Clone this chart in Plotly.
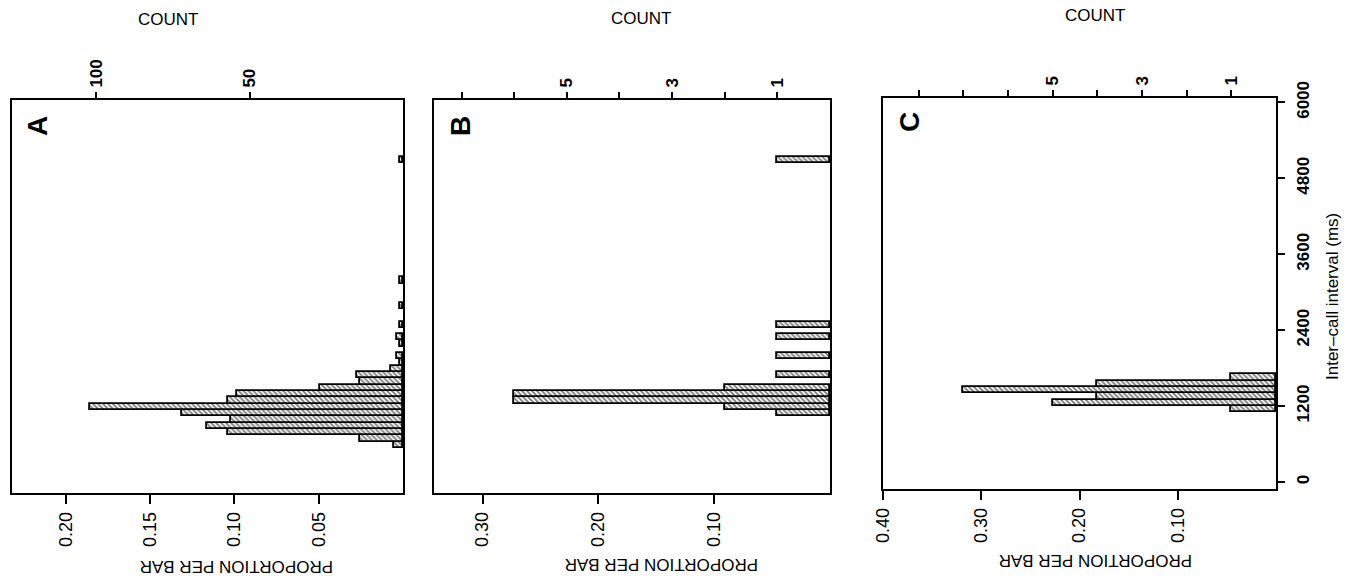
import plotly.graph_objects as go

# ---------------- data (bin lower edge in ms, counts) ----------------
A_bins = [600, 700, 800, 900, 1000, 1100, 1200, 1300, 1400, 1500, 1600, 1700,
          1800, 1900, 2000, 2200, 2300, 2500, 2800, 3200, 5100]
A_counts = [3, 14, 57, 64, 56, 72, 102, 57, 54, 27, 14, 15,
            4, 1, 2, 1, 2, 1, 1, 1, 1]

B_bins = [1100, 1200, 1300, 1400, 1500, 1700, 2000, 2300, 2500, 5100]
B_counts = [1, 2, 6, 6, 2, 1, 1, 1, 1, 1]

C_bins = [1100, 1200, 1300, 1400, 1500, 1600]
C_counts = [1, 5, 4, 7, 4, 1]

BIN_WIDTH = 100

A_prop_ticks = [0.05, 0.10, 0.15, 0.20]
B_prop_ticks = [0.10, 0.20, 0.30]
C_prop_ticks = [0.10, 0.20, 0.30, 0.40]

A_count_ticks = [50, 100]
A_count_labels = ["50", "100"]
B_count_ticks = [1, 2, 3, 4, 5, 6, 7]
B_count_labels = ["1", "", "3", "", "5", "", ""]
C_count_ticks = [1, 2, 3, 4, 5, 6, 7, 8]
C_count_labels = ["1", "", "3", "", "5", "", "", ""]

interval_ticks = [0, 1200, 2400, 3600, 4800, 6000]
panel_letters = ["A", "B", "C"]

# ---------------- layout helpers ----------------
W, H = 1347, 582
FONT = "Liberation Sans, Arial, Helvetica, sans-serif"


def fx(px):
    return px / W


def fy(py):
    return 1 - py / H


panels = [
    dict(bins=A_bins, counts=A_counts, pt=A_prop_ticks, ct=A_count_ticks, cl=A_count_labels,
         xdom=[fx(12), fx(403)], ydom=[fy(493), fy(100)], xmax=0.232, yr=[-110, 6100],
         letter_xy=(37, 126), count_xy=(168, 20), prop_xy=(237, 567)),
    dict(bins=B_bins, counts=B_counts, pt=B_prop_ticks, ct=B_count_ticks, cl=B_count_labels,
         xdom=[fx(434), fx(830)], ydom=[fy(493), fy(100)], xmax=0.342, yr=[-110, 6100],
         letter_xy=(460, 126), count_xy=(641, 19), prop_xy=(662, 565)),
    dict(bins=C_bins, counts=C_counts, pt=C_prop_ticks, ct=C_count_ticks, cl=C_count_labels,
         xdom=[fx(883), fx(1276)], ydom=[fy(489), fy(98)], xmax=0.40, yr=[-110, 6070],
         letter_xy=(909, 122), count_xy=(1095, 15), prop_xy=(1096, 561)),
]

fig = go.Figure()
layout = dict(
    width=W, height=H, margin=dict(l=0, r=0, t=0, b=0, autoexpand=False),
    paper_bgcolor="white", plot_bgcolor="white", showlegend=False,
    bargap=0, font=dict(family=FONT, color="black", size=16),
)
annotations = []

for i, p in enumerate(panels):
    n = sum(p["counts"])
    props = [c / n for c in p["counts"]]
    centers = [b + BIN_WIDTH / 2 for b in p["bins"]]
    xa = "x" if i == 0 else f"x{i + 1}"
    ya = "y" if i == 0 else f"y{i + 1}"
    xtop = f"x{i + 4}"
    fig.add_trace(go.Bar(
        x=props, y=centers, width=BIN_WIDTH, orientation="h",
        xaxis=xa, yaxis=ya,
        marker=dict(color="white", line=dict(color="black", width=1.8),
                    pattern=dict(shape="\\", fgcolor="black", bgcolor="white",
                                 size=3.5, solidity=0.55)),
        hoverinfo="skip",
    ))
    # empty trace so that the top COUNT axis is drawn
    fig.add_trace(go.Scatter(x=[], y=[], xaxis=xtop, yaxis=ya, hoverinfo="skip"))
    xkey = "xaxis" if i == 0 else f"xaxis{i + 1}"
    ykey = "yaxis" if i == 0 else f"yaxis{i + 1}"
    layout[xkey] = dict(
        domain=p["xdom"], anchor=ya, range=[p["xmax"], 0], automargin=False,
        showline=True, mirror=True, linecolor="black", linewidth=1.5,
        ticks="outside", ticklen=9, tickwidth=1.5, tickcolor="black",
        tickvals=p["pt"], ticktext=[f"{v:.2f}" for v in p["pt"]],
        tickangle=-90, tickfont=dict(size=18, family=FONT),
        ticklabelstandoff=1,
        showgrid=False, zeroline=False, fixedrange=True,
    )
    layout[f"xaxis{i + 4}"] = dict(
        overlaying=xa, anchor=ya, side="top", range=[p["xmax"], 0], automargin=False,
        showline=False, ticks="outside", ticklen=7, tickwidth=1.5, tickcolor="black",
        tickvals=[c / n for c in p["ct"]],
        ticktext=[f"<b>{t}</b>" if t else "" for t in p["cl"]],
        tickangle=-90, tickfont=dict(size=17, family=FONT),
        ticklabelstandoff=1,
        showgrid=False, zeroline=False, fixedrange=True,
    )
    yconf = dict(
        domain=p["ydom"], anchor=xa, range=p["yr"], automargin=False,
        showline=True, mirror=True, linecolor="black", linewidth=1.5,
        showgrid=False, zeroline=False, fixedrange=True,
    )
    if i == 2:
        yconf.update(side="right", ticks="outside", ticklen=7, tickwidth=1.5,
                     tickcolor="black", tickvals=interval_ticks,
                     ticktext=[f"<b>{v}</b>" for v in interval_ticks],
                     tickangle=-90, tickfont=dict(size=17, family=FONT),
                     ticklabelstandoff=4)
    else:
        yconf.update(ticks="", showticklabels=False)
    layout[ykey] = yconf

    lx, ly = p["letter_xy"]
    annotations.append(dict(text=f"<b>{panel_letters[i]}</b>", x=fx(lx), y=fy(ly),
                            xref="paper", yref="paper", showarrow=False, textangle=-90,
                            font=dict(size=28, family=FONT), xanchor="center", yanchor="middle"))
    cx, cy = p["count_xy"]
    annotations.append(dict(text="COUNT", x=fx(cx), y=fy(cy), xref="paper", yref="paper",
                            showarrow=False, font=dict(size=17, family=FONT),
                            xanchor="center", yanchor="middle"))
    px_, py_ = p["prop_xy"]
    annotations.append(dict(text="PROPORTION PER BAR", x=fx(px_), y=fy(py_), xref="paper",
                            yref="paper", showarrow=False, textangle=180,
                            font=dict(size=17, family=FONT),
                            xanchor="center", yanchor="middle"))

annotations.append(dict(text="Inter\u2013call interval (ms)", x=fx(1332), y=fy(297),
                        xref="paper", yref="paper", showarrow=False, textangle=-90,
                        font=dict(size=17, family=FONT), xanchor="center", yanchor="middle"))

layout["annotations"] = annotations
fig.update_layout(**layout)
fig.write_html("out.html",
               config={"displayModeBar": False},
               post_script="document.body.style.margin='0';"
                           "document.body.style.overflow='hidden';")
